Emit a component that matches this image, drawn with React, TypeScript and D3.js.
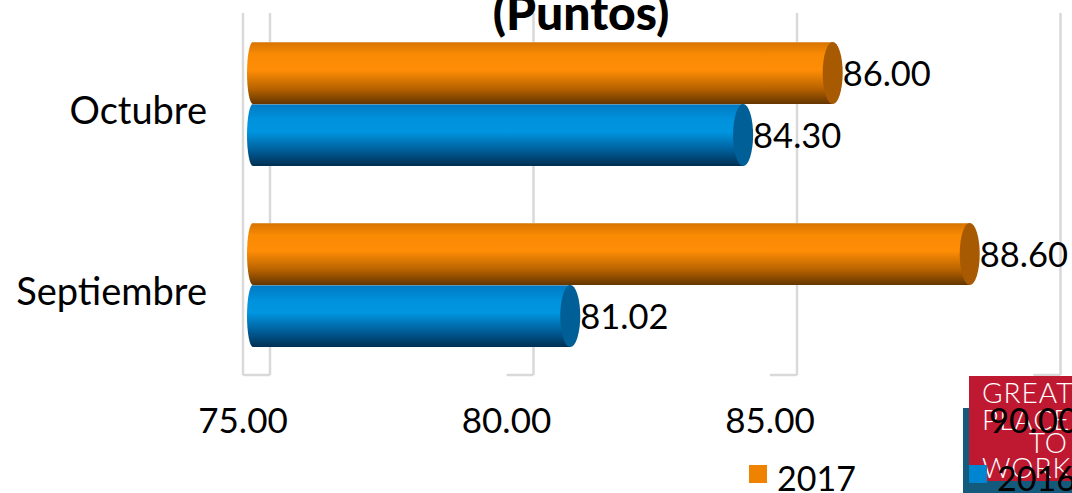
import React from "react";
import * as d3 from "d3";

const categories = ["Octubre", "Septiembre"];
const seriesNames = ["2017", "2016"];
const values2017 = [86.0, 88.6];
const values2016 = [84.3, 81.02];
const xTicks = [75, 80, 85, 90];
const title = "(Puntos)";
const logoLines = ["GREAT", "PLACE", "TO", "WORK"];

const W = 1072;
const H = 493;
const FONT = "Lato, 'Open Sans', sans-serif";

const palette: Record<string, { stops: [number, string][]; cap: string; legend: string }> = {
  "2017": {
    stops: [
      [0, "#d67300"],
      [0.2, "#f98a04"],
      [0.45, "#ff8d06"],
      [0.75, "#b86300"],
      [1, "#643500"],
    ],
    cap: "#a85a02",
    legend: "#ef8200",
  },
  "2016": {
    stops: [
      [0, "#0079c2"],
      [0.25, "#0092dc"],
      [0.45, "#0095e0"],
      [0.75, "#005d98"],
      [1, "#002f52"],
    ],
    cap: "#005f97",
    legend: "#0085d1",
  },
};

export default function App() {
  const x = d3.scaleLinear().domain([75, 90]).range([243, 1033.5]);
  const depth = 27;
  const barOff = 10;
  const gridTop = 13;
  const floorY = 375;
  const y = d3.scaleBand<string>().domain(categories).range([13.5, 375.5]).paddingInner(0);
  const groupH = 124;
  const ySub = d3.scaleBand<string>().domain(seriesNames).range([0, groupH]);
  const rx = 10;
  const rxLeft = 6;

  const data = categories.map((c, i) => ({
    cat: c,
    vals: [
      { s: "2017", v: values2017[i] },
      { s: "2016", v: values2016[i] },
    ],
  }));

  return (
    <svg
      width={W}
      height={H}
      style={{ position: "absolute", left: 0, top: 0, display: "block", background: "#fff" }}
      fontFamily={FONT}
    >
      <defs>
        {seriesNames.map((s) => (
          <linearGradient key={s} id={`g${s}`} x1="0" y1="0" x2="0" y2="1">
            {palette[s].stops.map(([o, c], k) => (
              <stop key={k} offset={o} stopColor={c} />
            ))}
          </linearGradient>
        ))}
      </defs>

      {/* walls / gridlines */}
      <g stroke="#d9d9d9" strokeWidth={2.5} fill="none">
        <line x1={x(75)} x2={x(75)} y1={gridTop} y2={floorY} />
        {xTicks.map((t) => (
          <g key={t}>
            <line x1={x(t) + depth} x2={x(t) + depth} y1={gridTop} y2={floorY} />
            <line x1={x(t)} x2={x(t) + depth} y1={floorY} y2={floorY} />
          </g>
        ))}
      </g>

      {/* title */}
      <text x={581} y={30} textAnchor="middle" fontSize={48} fontWeight={900} fill="#000">
        {title}
      </text>

      {/* bars */}
      {data.map((d) => (
        <g key={d.cat} transform={`translate(0,${(y(d.cat) as number) + y.bandwidth() / 2 - groupH / 2})`}>
          {d.vals.map((b) => {
            const top = ySub(b.s) as number;
            const h = ySub.bandwidth();
            const x0 = x(75) + barOff;
            const x1 = x(b.v) + barOff;
            const cy = top + h / 2;
            return (
              <g key={b.s}>
                <ellipse cx={x0} cy={cy} rx={rxLeft} ry={h / 2} fill={`url(#g${b.s})`} />
                <rect x={x0} y={top} width={x1 - x0} height={h} fill={`url(#g${b.s})`} />
                <line x1={x0} x2={x1} y1={top + 0.5} y2={top + 0.5} stroke="#e8c9a0" strokeOpacity={0.4} />
                <ellipse cx={x1} cy={cy} rx={rx} ry={h / 2} fill={palette[b.s].cap} />
                <text x={x1 + rx} y={cy + 13} fontSize={34.5} fill="#000">
                  {b.v.toFixed(2)}
                </text>
              </g>
            );
          })}
        </g>
      ))}

      {/* category labels */}
      {categories.map((c) => (
        <text
          key={c}
          x={207}
          y={(y(c) as number) + y.bandwidth() / 2 + 20}
          textAnchor="end"
          fontSize={38}
          fill="#000"
        >
          {c}
        </text>
      ))}

      {/* logo */}
      <g>
        <rect x={963} y={408} width={W - 963} height={H - 408} fill="#135a7d" />
        <rect x={969} y={376} width={W - 969} height={105} fill="#bf1932" />
        <g fill="#fff" fontSize={28} fontWeight={300} letterSpacing={1}>
          <text x={982} y={403}>{logoLines[0]}</text>
          <text x={982} y={430}>{logoLines[1]}</text>
          <text x={1068} y={453} textAnchor="end">{logoLines[2]}</text>
          <text x={982} y={478}>{logoLines[3]}</text>
        </g>
      </g>

      {/* x tick labels */}
      {xTicks.map((t) => (
        <text key={t} x={x(t)} y={433} textAnchor="middle" fontSize={35} fill="#000">
          {t.toFixed(2)}
        </text>
      ))}

      {/* legend */}
      {seriesNames.map((s, i) => {
        const lx = i === 0 ? 749 : 969;
        return (
          <g key={s}>
            <rect x={lx} y={465} width={18} height={18} fill={palette[s].legend} />
            <text x={lx + 28} y={491} fontSize={34} fill="#000">
              {s}
            </text>
          </g>
        );
      })}
    </svg>
  );
}
